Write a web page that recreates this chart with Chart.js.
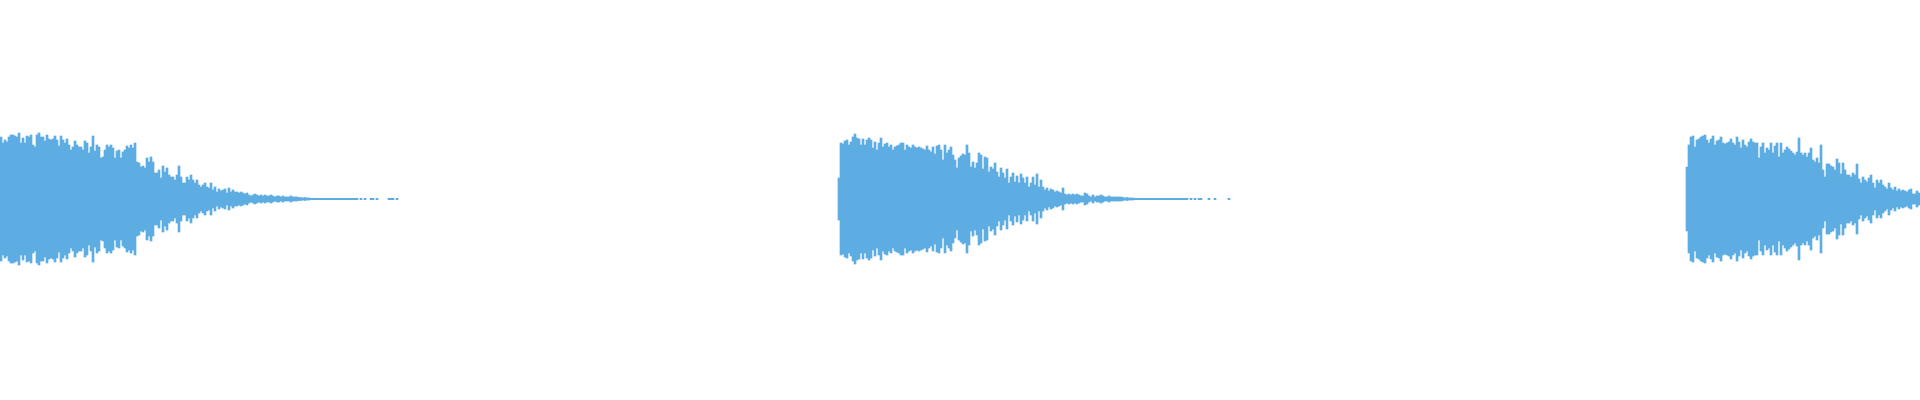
<!DOCTYPE html>
<html>
<head>
<meta charset="utf-8">
<title>Waveform</title>
<script src="https://cdn.jsdelivr.net/npm/chart.js@4"></script>
<style>
  html, body { margin: 0; padding: 0; background: #fff; }
  #wrap { width: 1920px; height: 400px; }
</style>
</head>
<body>
<div id="wrap"><canvas id="wave"></canvas></div>
<script>
"use strict";

// peak level per 2px column (full scale = 200)
const totalColumns = 960;
const burstStarts = [0, 419, 843];

const burst1Peaks = [
  62, 56, 59, 57, 62, 64, 64, 63, 62, 66, 56, 61, 56, 63, 62, 64, 54, 52, 64, 66,
  62, 62, 58, 64, 60, 59, 60, 63, 59, 53, 63, 59, 56, 60, 54, 49, 52, 58, 54, 52,
  52, 49, 58, 56, 46, 52, 63, 48, 54, 52, 41, 42, 49, 54, 52, 54, 51, 41, 48, 49,
  41, 47, 49, 53, 51,
  54, 51, 56, 37, 36, 32, 33, 31, 41, 37, 42, 37, 26, 26, 29, 21, 33, 27, 31, 24,
  22, 22, 19, 24, 33, 22, 16, 16, 22, 19, 24, 19, 16, 19, 14, 12, 14, 16, 12, 11,
  16, 9, 12, 7, 10, 8, 9, 10, 6, 11, 7, 9, 7, 7, 6, 7, 6, 5, 6, 4,
  3, 4, 5, 4, 3,
  4, 3, 4, 3, 3, 4, 3, 2, 3, 3,
  2, 3, 2, 2, 2, 3, 2, 2, 2,
  1.5, 1.5, 1, 1.5, 1, 1,
  0.7, 0.7, 0.7, 0.7, 0.7, 0.7, 0.7, 0.7, 0.7, 0.7, 0.7, 0.7,
  0.7, 0.7, 0.7, 0.7, 0.7, 0.7, 0.7, 0.7, 0.7, 0.7, 0.7, 0.7,
  null, 0.7, null, 0.7, null, null, 0.7, 0.7, null, 0.7,
  null, null, null, null, null, 0.7, 0.7, 0.7, null, 0.7,
];

const burst2Peaks = [
  21,
  56, 55, 58, 59, 54, 57, 62, 65, 61, 60, 54, 60, 54, 59, 61, 59, 51, 57, 49, 56,
  61, 52, 55, 56, 52, 54, 49, 52, 53, 54, 56, 56, 49, 54, 52, 51, 54, 52, 51, 52,
  51, 50, 49, 53, 49, 47, 52, 45, 53, 54, 49, 39, 54, 46, 49, 52, 44, 39, 31, 41,
  43, 45, 44,
  54, 46, 32, 37, 31, 36, 46, 44, 30, 42, 41, 27, 32, 30, 36, 27, 22, 31, 26, 21,
  30, 16, 22, 26, 17, 23, 16, 25, 21, 16, 22, 12, 16, 22, 14, 25, 12, 19, 12, 9,
  11, 8, 10, 9, 7, 8, 7, 6, 11, 5, 4, 5, 4, 5, 4, 5, 4, 3, 3, 6,
  5, 3, 2, 4, 2,
  3, 3, 4, 3,
  2, 2, 3, 2, 2, 2, 2, 2, 2,
  1.5, 1, 1.5, 1, 1, 1,
  0.7, 0.7, 0.7, 0.7, 0.7, 0.7, 0.7, 0.7, 0.7, 0.7, 0.7, 0.7, 0.7,
  0.7, 0.7, 0.7, 0.7, 0.7, 0.7, 0.7, 0.7, 0.7, 0.7, 0.7, 0.7, 0.7,
  0.7, null, 0.7, null, 0.7, null, 0.7, 0.7, null, null, null,
  0.7, null, null, 0.7, null, null, null, null, null, null, 0.7,
];

const burst3Peaks = [
  32,
  54, 62, 63, 52, 59, 60, 62, 63, 64, 59, 56, 60, 63, 54, 58, 59, 62, 56, 55, 56,
  57, 60, 56, 54, 62, 57, 51, 59, 54, 52, 57, 60, 57, 56, 56, 41, 52, 56, 46, 51,
  49, 56, 46, 53, 56, 42, 56, 46, 49, 52, 50, 48, 46, 44, 47, 61, 46, 44,
  46, 42, 46, 51, 39, 37, 41, 36, 54, 29, 22, 35, 35, 33, 32, 29, 40, 36, 25, 36,
  29, 24, 24, 22, 26, 24, 35, 20, 16, 22, 19, 17, 21, 24, 16, 11, 19, 16, 19, 14,
  12, 10, 16, 11, 9, 12, 8, 10, 8, 9, 8, 7, 9, 10, 5, 5, 8, 6,
];

const bursts = [burst1Peaks, burst2Peaks, burst3Peaks];

const columns = [];
const peaks = [];
for (let i = 0; i < totalColumns; i++) {
  columns.push(i);
  peaks.push(null);
}
bursts.forEach((burst, b) => {
  burst.forEach((p, i) => {
    const col = burstStarts[b] + i;
    if (col < totalColumns) peaks[col] = p;
  });
});

const ctx = document.getElementById("wave");

new Chart(ctx, {
  type: "bar",
  data: {
    labels: columns,
    datasets: [
      {
        label: "waveform",
        data: peaks.map((p) => (p === null ? null : [-p, p])),
        backgroundColor: "#5dade2",
        borderWidth: 0,
        borderSkipped: false,
        categoryPercentage: 1.0,
        barPercentage: 1.0,
      },
    ],
  },
  options: {
    responsive: true,
    maintainAspectRatio: false,
    animation: false,
    layout: { padding: 0 },
    scales: {
      x: {
        display: false,
        grid: { display: false },
      },
      y: {
        display: false,
        min: -201,
        max: 199,
        grid: { display: false },
      },
    },
    plugins: {
      legend: { display: false },
      tooltip: { enabled: false },
    },
  },
});
</script>
</body>
</html>
